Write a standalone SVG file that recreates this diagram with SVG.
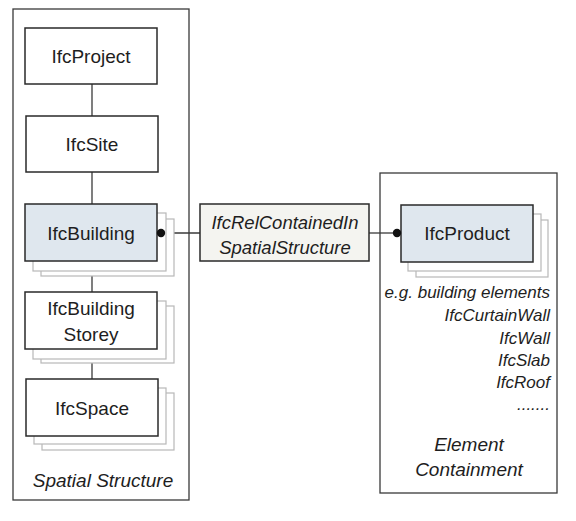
<svg xmlns="http://www.w3.org/2000/svg" width="576" height="521" viewBox="0 0 576 521">
<style>
.bg{fill:#ffffff}
.cont{fill:#ffffff;stroke:#3a3a3a;stroke-width:1.3}
.box{fill:#ffffff;stroke:#2a2a2a;stroke-width:1.5}
.hl{fill:#dfe7ee;stroke:#2a2a2a;stroke-width:1.5}
.rel{fill:#f4f4f0;stroke:#2a2a2a;stroke-width:1.5}
.sh{fill:#ffffff;stroke:#b8b8b8;stroke-width:1.2}
.ln{stroke:#3a3a3a;stroke-width:1.3;fill:none}
.t{font-family:"Liberation Sans",Arial,sans-serif;font-size:19px;fill:#1e1e1e;text-anchor:middle}
.it{font-family:"Liberation Sans",Arial,sans-serif;font-size:18.5px;font-style:italic;fill:#1e1e1e;text-anchor:middle}
.r{font-family:"Liberation Sans",Arial,sans-serif;font-size:17px;font-style:italic;fill:#1e1e1e;text-anchor:end}
.dot{fill:#111111}
</style>
<rect class="bg" x="0" y="0" width="576" height="521"/>
<g id="spatial-structure">
<rect class="cont" x="13" y="9" width="176" height="491"/>
<text class="it" x="103" y="487" style="font-size:19px">Spatial Structure</text>
</g>
<g id="element-containment">
<rect class="cont" x="380" y="173" width="177" height="320"/>
<text class="r" x="550" y="298">e.g. building elements</text>
<text class="r" x="550" y="321">IfcCurtainWall</text>
<text class="r" x="550" y="344">IfcWall</text>
<text class="r" x="550" y="366">IfcSlab</text>
<text class="r" x="550" y="388">IfcRoof</text>
<text class="r" x="550" y="410">.......</text>
<text class="it" x="469" y="451" style="font-size:19px">Element</text>
<text class="it" x="469" y="476" style="font-size:19px">Containment</text>
</g>
<g id="connectors">
<line class="ln" x1="92" y1="84" x2="92" y2="116"/>
<line class="ln" x1="92" y1="172" x2="92" y2="204"/>
<line class="ln" x1="92" y1="261" x2="92" y2="292"/>
<line class="ln" x1="92" y1="349" x2="92" y2="379"/>
<line class="ln" x1="161" y1="233" x2="200" y2="233"/>
<line class="ln" x1="369" y1="233" x2="397" y2="233"/>
</g>
<g id="IfcProject">
<rect class="box" x="25" y="28" width="132" height="56"/>
<text class="t" x="91" y="63">IfcProject</text>
</g>
<g id="IfcSite">
<rect class="box" x="26" y="116" width="132" height="56"/>
<text class="t" x="92" y="151">IfcSite</text>
</g>
<g id="IfcBuilding">
<rect class="sh" x="41" y="219" width="133" height="57"/>
<rect class="sh" x="33" y="213" width="133" height="58"/>
<rect class="hl" x="25" y="204" width="132" height="57"/>
<text class="t" x="91" y="240">IfcBuilding</text>
<circle class="dot" cx="161" cy="233" r="4.2"/>
</g>
<g id="IfcBuildingStorey">
<rect class="sh" x="41" y="306" width="133" height="57"/>
<rect class="sh" x="33" y="301" width="133" height="58"/>
<rect class="box" x="25" y="292" width="132" height="57"/>
<text class="t" x="91" y="315">IfcBuilding</text>
<text class="t" x="91" y="341">Storey</text>
</g>
<g id="IfcSpace">
<rect class="sh" x="42" y="393" width="132" height="57"/>
<rect class="sh" x="34" y="388" width="132" height="56"/>
<rect class="box" x="26" y="379" width="132" height="57"/>
<text class="t" x="92" y="415">IfcSpace</text>
</g>
<g id="IfcRelContainedInSpatialStructure">
<rect class="rel" x="200" y="204" width="169" height="57"/>
<text class="it" x="285" y="229">IfcRelContainedIn</text>
<text class="it" x="285" y="254">SpatialStructure</text>
</g>
<g id="IfcProduct">
<rect class="sh" x="416" y="220" width="132" height="57"/>
<rect class="sh" x="408" y="214" width="133" height="57"/>
<rect class="hl" x="401" y="205" width="132" height="57"/>
<text class="t" x="467" y="240">IfcProduct</text>
<circle class="dot" cx="397" cy="233" r="4.2"/>
</g>
</svg>
